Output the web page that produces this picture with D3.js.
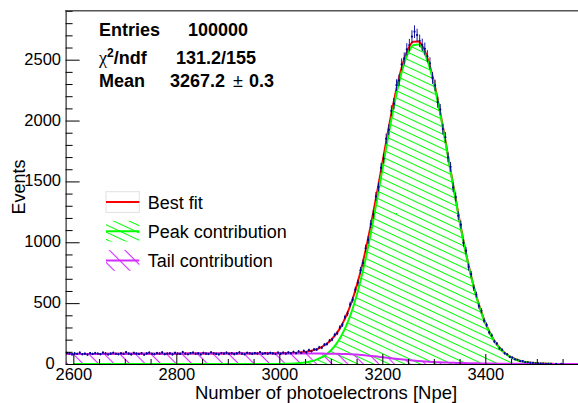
<html>
<head>
<meta charset="utf-8">
<script src="https://d3js.org/d3.v7.min.js"></script>
<style>
  body { margin: 0; background: #fff; }
  svg text { font-family: "Liberation Sans", Arial, Helvetica, sans-serif; }
</style>
</head>
<body>
<svg id="chart"></svg>
<script>

// histogram: 200 bins of 5 Npe from 2585
var binStart = 2585;
var binWidth = 5;
var counts = [
  91, 86, 79, 88, 84, 93, 80, 85, 77, 89,
  83, 90, 86, 81, 94, 87, 78, 85, 92, 84,
  80, 88, 83, 97, 86, 79, 91, 85, 82, 89,
  76, 87, 93, 84, 80, 90, 86, 95, 81, 85,
  88, 79, 92, 86, 83, 98, 85, 80, 89, 94,
  84, 87, 78, 91, 85, 82, 96, 88, 83, 79,
  90, 86, 93, 84, 89, 81, 87, 95, 85, 80,
  92, 88, 84, 90, 86, 97, 83, 89, 85, 91,
  87, 82, 94,
  84, 93, 86, 95, 88, 99, 89, 104, 92, 108,
  96, 115, 105, 121, 118, 137, 134, 160, 164, 192,
  201, 240, 253, 301, 322, 385, 414, 490, 528, 611,
  668, 770, 829, 951, 1019, 1150, 1228, 1377, 1455, 1612,
  1688, 1851, 1925, 2080, 2139, 2291, 2330, 2461, 2510, 2585,
  2620, 2690, 2730, 2702, 2655, 2622, 2590, 2528, 2470, 2350,
  2288, 2151, 2090, 1930, 1862, 1697, 1620, 1450, 1371, 1218,
  1145, 995, 931, 797, 738, 626, 571, 476, 437, 356,
  322, 259, 236, 185, 168, 129, 117, 88, 80, 58,
  53, 38, 35, 24, 23, 15, 14, 9, 10, 6,
  5, 3, 4, 2, 1, 2, 0, 1, 0, 1,
  0, 0, 0, 0, 0, 0, 0
];

// fit curves, sampled
var fitX = [2585, 2600, 2650, 2700, 2750, 2800, 2850, 2900, 2950,
  3000, 3010, 3020, 3030, 3040, 3050, 3060, 3070, 3080, 3090,
  3100, 3110, 3120, 3130, 3140, 3150, 3160, 3170, 3180, 3190,
  3200, 3210, 3220, 3230, 3240, 3250, 3260, 3270, 3280, 3290,
  3300, 3310, 3320, 3330, 3340, 3350, 3360, 3370, 3380, 3390,
  3400, 3410, 3420, 3430, 3440, 3450, 3460, 3470, 3480, 3490,
  3500, 3510, 3520, 3530, 3540, 3560, 3585];
var bestFit = [82, 82.5, 83, 84, 84.5, 85, 85.5, 86, 86.5,
  88, 88, 90, 91, 94, 99, 106, 118, 135, 160,
  196, 245, 311, 397, 505, 639, 798, 983, 1191, 1416,
  1651, 1886, 2109, 2308, 2471, 2586, 2647, 2650, 2594, 2481,
  2320, 2121, 1895, 1654, 1413, 1179, 962, 767, 598, 455,
  339, 247, 176, 123, 84, 56, 37, 23.5, 15, 9.3,
  5.7, 3.5, 2.1, 1.3, 0.8, 0.3, 0.1];
var peakFit = [0, 0, 0, 0, 0, 0, 0, 0, 0,
  0.8, 1.4, 2.5, 4.4, 7.5, 12.4, 20.1, 32, 49.6, 75.1,
  111, 161, 228, 315, 425, 561, 724, 913, 1125, 1355,
  1595, 1835, 2063, 2267, 2434, 2554, 2619, 2625, 2572, 2462,
  2303, 2106, 1882, 1643, 1403, 1170, 954, 760, 592, 450,
  335, 243, 173, 120, 81.5, 53.9, 35, 22.1, 13.7, 8.3,
  4.9, 2.8, 1.6, 0.9, 0.5, 0.1, 0];
var tailFit = [82, 82.5, 83, 84, 84.5, 85, 85.5, 86, 86.5,
  87, 87, 87, 87, 86.5, 86.5, 86, 86, 85.5, 85,
  84.5, 84, 83, 82, 80, 77.5, 74, 70, 66, 61,
  56, 51, 46, 41, 36.5, 32, 28, 24.5, 21.5, 19,
  16.5, 14.5, 12.5, 11, 9.5, 8.5, 7.5, 6.5, 5.8, 5,
  4.4, 3.8, 3.3, 2.8, 2.4, 2, 1.7, 1.4, 1.2, 1,
  0.8, 0.65, 0.5, 0.4, 0.3, 0.2, 0.1];
var peakStart = 2600;

var xMajor = [2600, 2800, 3000, 3200, 3400];
var yMajor = [0, 500, 1000, 1500, 2000, 2500];
var legendLabels = ["Best fit", "Peak contribution", "Tail contribution"];
var statLabels = ["Entries", "\u03c7", "Mean"];
var statValues = ["100000", "131.2/155", "3267.2"];

page();

function page() {
	var W = 578, H = 403;
	var left = 65.6, right = 580.6, top = 11, bottom = 364;
	var font = "\"Liberation Sans\", Arial, Helvetica, sans-serif";
	var red = "#ff0000", green = "#00ff00", violet = "#d22cff", navy = "#000099";

	var svg = d3.select("#chart").attr("width", W).attr("height", H);
	svg.append("rect").attr("width", W).attr("height", H).style("fill", "#fff");

	var x = d3.scaleLinear().domain([2585, 3585]).range([left, right]);
	var y = d3.scaleLinear().domain([0, 2900]).range([bottom, top]);

	var defs = svg.append("defs");
	defs.append("clipPath").attr("id", "frame")
		.append("rect").attr("x", left).attr("y", top)
		.attr("width", right - left).attr("height", bottom - top + 2);
	hatch(defs, "hatchGreen", green, 6.6, 25, 1);
	hatch(defs, "hatchViolet", violet, 11, 45, 1.2);

	var fit = fitX.map(function(v, i) {
		return {x: v, best: bestFit[i], peak: peakFit[i], tail: tailFit[i]};
	});

	var plot = svg.append("g").attr("clip-path", "url(#frame)");

	// hatched contributions
	plot.append("path")
		.datum(fit.filter(function(d) { return d.x >= peakStart; }))
		.attr("d", d3.area().curve(d3.curveMonotoneX)
			.x(function(d) { return x(d.x); })
			.y0(y(0)).y1(function(d) { return y(d.peak); }))
		.style("fill", "url(#hatchGreen)");
	plot.append("path")
		.datum(fit)
		.attr("d", d3.area().curve(d3.curveMonotoneX)
			.x(function(d) { return x(d.x); })
			.y0(y(0)).y1(function(d) { return y(d.tail); }))
		.style("fill", "url(#hatchViolet)");

	// axes
	var minorX = d3.range(2600, 3586, 50).filter(function(v) { return xMajor.indexOf(v) < 0; });
	var minorY = d3.range(0, 2901, 100).filter(function(v) { return yMajor.indexOf(v) < 0; });

	svg.append("g").attr("transform", "translate(0," + bottom + ")")
		.call(d3.axisBottom(x).tickValues(xMajor).tickSize(-10).tickSizeOuter(0)
			.tickPadding(4.5).tickFormat(d3.format("d")));
	svg.append("g").attr("transform", "translate(0," + bottom + ")")
		.call(d3.axisBottom(x).tickValues(minorX).tickSize(-5).tickFormat(""))
		.select(".domain").remove();
	var gy = svg.append("g").attr("transform", "translate(" + left + ",0)")
		.call(d3.axisLeft(y).tickValues(yMajor).tickSize(-14).tickSizeOuter(0)
			.tickPadding(4.6).tickFormat(d3.format("d")));
	gy.selectAll(".tick text").attr("dy", "0.27em")
		.attr("x", function(d) { return d === 0 ? -11 : -4.6; });
	svg.append("g").attr("transform", "translate(" + left + ",0)")
		.call(d3.axisLeft(y).tickValues(minorY).tickSize(-7).tickFormat(""))
		.select(".domain").remove();
	svg.selectAll(".tick text").style("font-family", font).style("font-size", "16.5px").style("fill", "#000");
	svg.selectAll(".tick line, .domain").style("stroke", "#000").style("stroke-width", 1);

	svg.append("line")
		.attr("x1", left - 0.5).attr("x2", W)
		.attr("y1", top - 0.3).attr("y2", top - 0.3)
		.style("stroke", "#555").style("stroke-width", 1.6);

	// fitted lines
	var line = function(key) {
		return d3.line().curve(d3.curveMonotoneX)
			.x(function(d) { return x(d.x); })
			.y(function(d) { return y(d[key]); });
	};
	plot.append("path").datum(fit.filter(function(d) { return d.x >= peakStart; }))
		.attr("d", line("best"))
		.style("fill", "none").style("stroke", red).style("stroke-width", 2);
	plot.append("path").datum(fit.filter(function(d) { return d.x >= peakStart; }))
		.attr("d", line("peak"))
		.style("fill", "none").style("stroke", green).style("stroke-width", 2);
	plot.append("path").datum(fit)
		.attr("d", line("tail"))
		.style("fill", "none").style("stroke", violet).style("stroke-width", 2);

	// data points with sqrt(N) errors
	var bins = counts.map(function(c, i) {
		return {x: binStart + (i + 0.5) * binWidth, n: c};
	}).filter(function(d) { return d.n > 0; });
	var pts = plot.append("g");
	pts.selectAll("line.err").data(bins).enter().append("line")
		.attr("class", "err")
		.attr("x1", function(d) { return x(d.x); })
		.attr("x2", function(d) { return x(d.x); })
		.attr("y1", function(d) { return y(d.n - Math.sqrt(d.n)); })
		.attr("y2", function(d) { return y(d.n + Math.sqrt(d.n)); })
		.style("stroke", navy).style("stroke-width", 0.9);
	pts.selectAll("circle").data(bins).enter().append("circle")
		.attr("cx", function(d) { return x(d.x); })
		.attr("cy", function(d) { return y(d.n); })
		.attr("r", 1.1)
		.style("fill", navy);

	// axis titles
	svg.append("text")
		.attr("x", 326).attr("y", 399)
		.attr("text-anchor", "middle")
		.style("font-size", "18.5px")
		.text("Number of photoelectrons [Npe]");
	svg.append("text")
		.attr("transform", "translate(25,187) rotate(-90)")
		.attr("text-anchor", "middle")
		.style("font-size", "18px")
		.text("Events");

	// stats
	var base = [35.5, 64, 87];
	var valX = [188, 176, 170];
	var stats = svg.append("g").style("font-size", "18px").style("font-weight", "bold");
	statLabels.forEach(function(lab, i) {
		var t = stats.append("text").attr("x", 99).attr("y", base[i]);
		if (i === 1) {
			t.append("tspan").style("font-weight", "normal")
				.style("font-family", "\"Liberation Serif\", serif").text(lab);
			t.append("tspan").attr("dy", -7).style("font-size", "12px").text("2");
			t.append("tspan").attr("dy", 7).text("/ndf");
		} else {
			t.text(lab);
		}
		var v = stats.append("text").attr("x", valX[i]).attr("y", base[i]).text(statValues[i]);
		if (i === 2) {
			v.append("tspan").attr("x", 233).style("font-weight", "normal").text("\u00b1");
			v.append("tspan").attr("x", 249).text("0.3");
		}
	});

	// legend
	var legColors = [red, green, violet];
	var legFill = [null, "url(#hatchGreen)", "url(#hatchViolet)"];
	var leg = svg.append("g");
	legendLabels.forEach(function(lab, i) {
		var cy = 202 + i * 29.2;
		if (legFill[i]) {
			leg.append("rect").attr("x", 106).attr("y", cy - 10.3)
				.attr("width", 33.3).attr("height", 20.7)
				.style("fill", legFill[i]);
		} else {
			leg.append("rect").attr("x", 106).attr("y", cy - 10.3)
				.attr("width", 33.3).attr("height", 20.7)
				.style("fill", "none").style("stroke", "#e2e2e2").style("stroke-width", 1);
		}
		leg.append("line").attr("x1", 106).attr("x2", 139.3)
			.attr("y1", cy).attr("y2", cy)
			.style("stroke", legColors[i]).style("stroke-width", 2);
		leg.append("text").attr("x", 147.7).attr("y", cy + 6.5)
			.style("font-size", "18px").text(lab);
	});
}

function hatch(defs, id, color, gap, angle, width) {
	var p = defs.append("pattern").attr("id", id)
		.attr("patternUnits", "userSpaceOnUse")
		.attr("width", 20).attr("height", gap)
		.attr("patternTransform", "rotate(" + angle + ")");
	p.append("line").attr("x1", 0).attr("x2", 20)
		.attr("y1", 0.5).attr("y2", 0.5)
		.style("stroke", color).style("stroke-width", width);
}

</script>
</body>
</html>
